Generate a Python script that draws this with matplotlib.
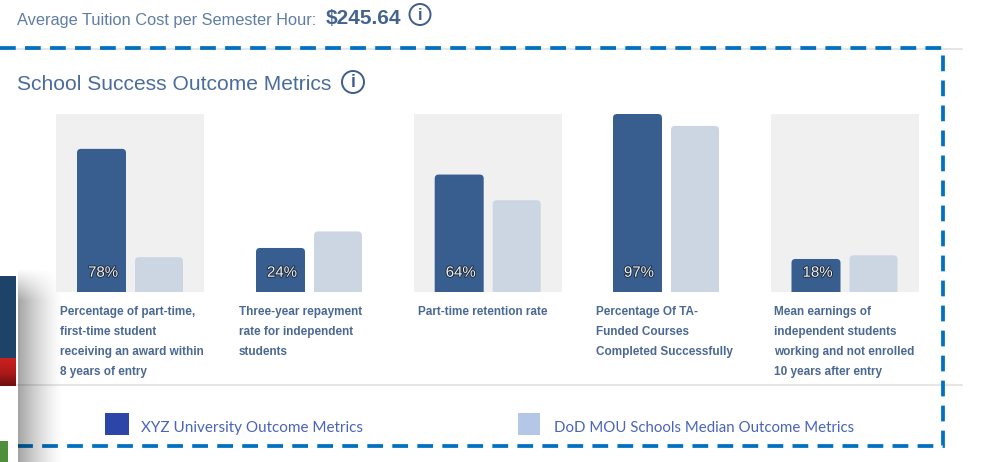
import numpy as np
import matplotlib
matplotlib.use("Agg")
import matplotlib.pyplot as plt
from matplotlib.colors import LinearSegmentedColormap
from matplotlib.patches import FancyBboxPatch, Circle, Rectangle
import matplotlib.patheffects as pe

plt.rcParams['font.family'] = ['Liberation Sans', 'DejaVu Sans']

W, H = 981, 462

# values
school_values = [78, 24, 64, 97, 18]
median_values = [19, 33, 50, 90.5, 20]
value_labels = ["78%", "24%", "64%", "97%", "18%"]
metric_labels = [
    ["Percentage of part-time,", "first-time student", "receiving an award within", "8 years of entry"],
    ["Three-year repayment", "rate for independent", "students"],
    ["Part-time retention rate"],
    ["Percentage Of TA-", "Funded Courses", "Completed Successfully"],
    ["Mean earnings of", "independent students", "working and not enrolled", "10 years after entry"],
]
legend_labels = ["XYZ University Outcome Metrics", "DoD MOU Schools Median Outcome Metrics"]
tuition_label = "Average Tuition Cost per Semester Hour:"
tuition_value = "$245.64"
section_title = "School Success Outcome Metrics"

DARK = "#375e8f"
LIGHT = "#ccd6e3"
PANEL = "#f0f0f0"
TEXT = "#4a6894"
DASH = "#0070c0"
RULE = "#e2e2e2"

fig = plt.figure(figsize=(W / 100, H / 100), dpi=100, facecolor="white")

# full page layer in pixel coordinates
page = fig.add_axes([0, 0, 1, 1], zorder=0)
page.axis("off")

panel_left = [56, 235, 413.7, 592, 770.5]
panel_w, panel_top, panel_bottom = 148, 114, 292
top_value = 97
aspect = top_value / (panel_bottom - panel_top)


def rounded_bar(ax, bar, color):
    # swap the square bar for one with rounded top corners, foot is clipped by the axes
    bar.set_visible(False)
    x, w, h = bar.get_x(), bar.get_width(), bar.get_height()
    p = FancyBboxPatch((x, -6), w, h + 6, boxstyle="round,pad=0,rounding_size=4",
                       mutation_aspect=aspect, fc=color, ec="none", zorder=3)
    ax.add_patch(p)


for i, left in enumerate(panel_left):
    ax = fig.add_axes([left / W, 1 - panel_bottom / H, panel_w / W, (panel_bottom - panel_top) / H], zorder=1)
    ax.set_xlim(0, panel_w)
    ax.set_ylim(0, top_value)
    ax.set_facecolor(PANEL if i % 2 == 0 else "white")
    for s in ax.spines.values():
        s.set_visible(False)
    ax.set_xticks([])
    ax.set_yticks([])
    b1 = ax.bar([45.5], [school_values[i]], width=49, align="center")[0]
    b2 = ax.bar([103], [median_values[i]], width=48, align="center")[0]
    rounded_bar(ax, b1, DARK)
    rounded_bar(ax, b2, LIGHT)
    ax.text(47, 10.5, value_labels[i], ha="center", va="center", fontsize=10.8, color="#f2f2f2", zorder=5,
            path_effects=[pe.withStroke(linewidth=1.3, foreground="#1c2a3c")])
    for j, line in enumerate(metric_labels[i]):
        page.text(left + 4, 312 + j * 20, line, fontsize=8.5, fontweight="bold", color=TEXT, va="center", ha="left")

# header text
page.text(17, 20, tuition_label, fontsize=11.8, color="#5f7da3", va="center", ha="left")
page.text(326, 19, tuition_value, fontsize=15, fontweight="bold", color="#44648f", va="center", ha="left")
page.text(17, 85, section_title, fontsize=15.1, color="#4a6c9c", va="center", ha="left")


def info_icon(x, y, r):
    page.add_patch(Circle((x, y), r, fc="white", ec="#3d5d8c", lw=1.4))
    page.text(x, y + 0.5, "i", fontsize=r * 1.15, fontweight="bold", color="#3d5d8c", ha="center", va="center")


info_icon(420, 14.5, 10.5)
info_icon(353, 82, 11)

# rules and dashed frame
page.plot([0, 962], [49, 49], color=RULE, lw=1.2, zorder=2)
page.plot([17, 962], [385, 385], color=RULE, lw=1.2, zorder=2)
page.plot([0, 943, 943, 0], [47.5, 47.5, 446, 446], color=DASH, lw=2.7, linestyle=(0, (4.2, 2.47)),
          dash_capstyle="butt", dash_joinstyle="miter", zorder=4)

# legend
page.add_patch(Rectangle((105, 413), 24, 22, fc="#2b45a8", ec="none"))
page.add_patch(Rectangle((518, 413), 22, 22, fc="#b4c7e7", ec="none"))
page.text(141, 428, legend_labels[0], fontsize=10.95, family=["Lato", "DejaVu Sans"], color="#4a64b8", va="center", ha="left")
page.text(554, 428, legend_labels[1], fontsize=10.85, family=["Lato", "DejaVu Sans"], color="#4a64b8", va="center", ha="left")

# cropped popup window at lower left, its soft shadow falls over the frame
fade_x = np.linspace(0.48, 0, 46) ** 1.4
fade_y = np.clip(np.linspace(0, 1, 194) * 6, 0, 1)
shadow = np.zeros((194, 46, 4))
shadow[..., 3] = np.outer(fade_y, fade_x)
page.imshow(shadow, extent=(18, 64, 462, 268), aspect="auto", zorder=5, interpolation="bilinear")
page.add_patch(Rectangle((0, 386), 18, 76, fc="white", ec="none", zorder=7))
page.add_patch(Rectangle((0, 276), 16, 82, fc="#1d4468", ec="none", zorder=7))
red = LinearSegmentedColormap.from_list("popup_red", ["#c8201f", "#b01a1a", "#6e1010"])
page.imshow(np.linspace(0, 1, 28).reshape(-1, 1), extent=(0, 16, 386, 358), cmap=red, aspect="auto", zorder=7)
page.add_patch(Rectangle((0, 441), 7.5, 21, fc="#4f8f3c", ec="none", zorder=8))
page.set_xlim(0, W)
page.set_ylim(H, 0)

fig.savefig("out.png", dpi=100)
